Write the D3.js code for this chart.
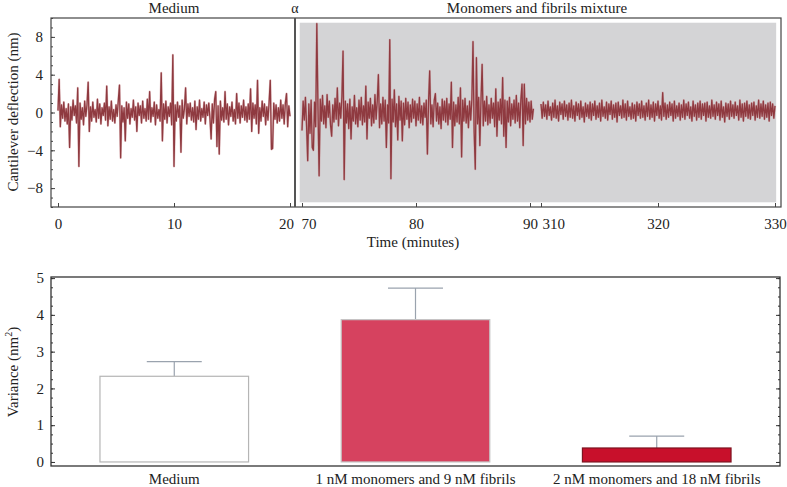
<!DOCTYPE html>
<html>
<head>
<meta charset="utf-8">
<script src="https://cdn.jsdelivr.net/npm/d3@7"></script>
<style>
  body { margin: 0; background: #fff; }
  text { font-family: "Liberation Serif", "Times New Roman", serif; fill: #222; }
</style>
</head>
<body>
<div class="canva"></div>
<script>
// ---- data: cantilever deflection trace (nm), sampled every 0.1 min ----
const sampleStep = 0.1;

const medStart = 0;
const medTrace = [
  0.2, 3.5, -1.5, 0.8, -0.6, 1.1, -0.9, 0.4, -1.2, 0.9,
  -3.7, 0.6, -0.8, 1.3, -0.3, 0.7, -1.1, 2.6, -5.7, 1.0,
  -0.7, 0.5, -1.3, 1.2, -0.4, 0.8, 3.2, -2.0, 0.6, -0.9,
  1.1, -0.5, 0.3, -1.0, 1.4, -0.6, 0.9, -1.2, 0.5, -0.3,
  1.0, -0.8, 2.8, -1.4, 0.6, -0.7, 1.2, -0.9, 0.3, -1.1,
  0.8, -0.4, 1.3, 2.9, -4.8, 0.7, -1.0, 0.5, -3.0, 1.1,
  -0.6, 0.9, -1.2, 0.4, -0.5, 1.3, -0.8, 0.6, -2.0, 1.0,
  -0.3, 0.7, -1.1, 1.2, -0.6, 0.4, -0.9, 1.4, -0.7, 2.2,
  -1.0, 0.5, -0.4, 1.1, -1.3, 0.8, -0.6, 0.3, -0.9, 4.2,
  -3.0, 0.9, -0.7, 1.2, -1.1, 0.6, -0.4, 1.0, -1.3, 6.1,
  -5.7, 0.8, -0.9, 1.1, -0.5, 0.7, -4.2, 1.3, -0.6, 0.4,
  2.6, -1.2, 0.9, -0.4, 1.0, -0.8, 0.5, -1.0, 1.2, -1.8,
  0.6, -0.7, 1.3, -0.9, 0.4, -0.5, 1.1, -1.2, 0.8, -0.3,
  1.0, -0.6, -2.8, 0.9, -1.1, 1.4, 2.2, -3.6, 0.7, -4.4,
  1.2, -0.8, 0.5, -1.0, 2.2, -0.7, 0.9, -1.3, 0.6, -0.4,
  1.1, -0.9, 0.3, -1.2, 2.0, -0.6, 1.0, -1.1, 0.7, -0.5,
  1.3, -0.8, 0.6, -1.0, 0.9, -0.7, 2.5, -2.0, 1.0, -0.6,
  0.8, -1.2, 3.4, -2.2, 0.5, -0.9, 1.2, -0.4, 0.9, -1.3,
  0.6, -0.8, 1.1, 3.4, -3.9, -3.8, 1.0, -0.7, 0.8, -1.1,
  0.5, -0.9, 1.3, -0.6, 0.8, -1.2, 1.0, 2.0, -1.5, 0.7,
  -0.4
];

const mixStart = 70;
const mixTrace = [
  -1.9, 1.2, -0.8, 1.6, -1.4, -5.1, 0.9, -2.2, 1.3, -3.7,
  -4.0, 1.1, -1.5, 9.4, 0.6, -6.7, 1.4, -0.9, 1.8, -1.2,
  0.7, -1.6, 1.9, -0.5, 1.2, -1.3, -2.5, 0.8, -1.0, 1.5,
  -0.7, 2.6, -1.4, 1.0, -0.6, 1.7, 6.5, -7.1, 1.2, -1.1,
  0.9, -1.7, 1.4, -2.8, 0.6, -0.9, 1.8, -1.2, 0.5, -1.5,
  1.3, -0.8, 1.6, -1.3, 0.7, -1.0, 2.8, -2.8, 1.1, -0.6,
  1.5, -1.4, 0.8, -1.1, 1.9, -0.7, 1.2, 4.0, -1.6, 0.9,
  -1.2, 1.6, -0.9, 1.3, -3.7, 0.8, -1.1, 7.7, -7.0, 1.4,
  -1.0, 2.4, -1.5, 0.9, -2.9, 1.7, -0.8, 1.2, -3.0, 1.0,
  -1.3, 1.5, -0.7, 1.1, -1.6, 0.8, -1.0, 1.4, -0.6, 1.2,
  -1.4, 0.9, -0.8, 1.6, -1.1, 0.7, -1.3, 1.0, -0.5, 1.3,
  -4.4, 1.1, 4.4, -1.2, 0.8, -1.5, 1.3, 2.0, -0.9, 1.0,
  -1.2, 0.6, -1.7, 1.4, -0.8, 1.2, -1.0, 1.5, -1.3, 0.9,
  -0.7, 3.2, -3.7, 1.1, -1.4, 0.8, -1.0, 1.6, -1.2, 2.6,
  -4.7, 1.3, -0.9, 1.5, -1.1, 0.7, -1.6, 1.2, -0.8, 1.4,
  7.5, -2.0, -6.0, 5.8, -1.2, 1.6, -3.5, 1.3, 5.1, -1.4,
  1.2, -0.9, 1.7, -1.3, 0.8, -1.1, 1.5, -0.6, 1.0, -1.5,
  2.5, -2.5, 1.1, -0.8, 1.4, -1.2, 3.7, -2.5, 1.3, -3.7,
  1.2, -1.0, 1.6, -1.4, 0.9, -0.7, 1.3, -1.1, 1.8, -0.9,
  1.0, -1.6, 1.4, 3.0, -3.5, 3.0, -1.2, 1.5, -0.8, 1.1,
  -1.0, 1.2, -0.7, 0.4
];

const lateStart = 310;
const lateTrace = [
  0.9, -0.6, 1.1, -0.4, 0.8, -0.7, 1.2, -0.3, 0.6, -0.8,
  1.0, -0.5, 1.3, -0.6, 0.7, -0.9, 1.1, -0.2, 0.9, -0.7,
  1.2, -0.4, 0.8, -0.8, 1.0, -0.5, 1.3, -0.6, 0.7, -0.9,
  1.1, -0.3, 0.9, -0.7, 1.2, -0.5, 0.6, -1.0, 1.0, -0.4,
  0.8, -0.6, 1.1, -0.8, 0.9, -0.3, 1.2, -0.7, 0.7, -0.5,
  1.0, -0.9, 1.3, -0.4, 0.6, -0.6, 1.1, -0.8, 0.9, -0.2,
  1.2, -0.7, 0.8, -0.5, 1.0, -1.0, 1.1, -0.3, 0.7, -0.6,
  1.3, -0.5, 0.9, -0.8, 1.2, -0.4, 0.6, -0.7, 1.0, -0.6,
  0.8, -0.9, 1.1, -0.3, 0.9, -0.6, 1.2, -0.5, 0.7, -0.8,
  1.0, -0.4, 1.3, -0.7, 0.8, -0.5, 1.1, -0.9, 0.9, -0.3,
  1.2, -0.6, 0.7, -0.8, 2.1, -0.4, 1.0, -0.7, 0.8, -0.5,
  1.1, -0.3, 0.9, -0.9, 1.2, -0.6, 0.7, -0.4, 1.0, -0.8,
  0.8, -0.5, 1.3, -0.7, 0.9, -0.3, 1.1, -0.6, 0.6, -0.9,
  1.2, -0.4, 0.8, -0.8, 1.0, -0.5, 1.2, -0.7, 0.9, -0.3,
  1.0, -0.9, 1.1, -0.5, 0.7, -0.6, 1.3, -0.4, 0.8, -0.7,
  1.1, -0.3, 0.9, -0.8, 1.2, -0.5, 0.6, -1.0, 1.0, -0.4,
  0.9, -0.7, 1.2, -0.4, 0.8, -0.6, 1.1, -0.3, 0.7, -0.8,
  1.3, -0.5, 0.9, -0.9, 1.0, -0.4, 1.2, -0.6, 0.8, -0.7,
  1.0, -0.3, 1.1, -0.8, 0.7, -0.5, 1.3, -0.6, 0.9, -0.4,
  1.2, -0.7, 0.8, -0.5, 1.0, -0.9, 1.1, -0.3, 0.9, -0.6,
  0.7
];

const medTicks = [0, 10, 20];
const mixTicks = [70, 80, 90];
const lateTicks = [310, 320, 330];
const deflTicks = [-8, -4, 0, 4, 8];

// ---- data: variance bar chart ----
const categories = ['Medium', '1 nM monomers and 9 nM fibrils', '2 nM monomers and 18 nM fibrils'];
const variance = [2.33, 3.87, 0.38];
const varianceErr = [0.40, 0.86, 0.32];
const varTicks = [0, 1, 2, 3, 4, 5];

const barFill = ['#ffffff', '#d6425f', '#c8102b'];
const barStroke = ['#b5b5b5', '#c4c4c4', '#7d1420'];

const svg = d3.select('.canva').append('svg')
    .attr('width', 787)
    .attr('height', 487);

// ================= top panel =================
const yTop = d3.scaleLinear().domain([-10, 10]).range([207, 18]);
const x1 = d3.scaleLinear().domain([0, 20]).range([58, 290]);
const x2 = d3.scaleLinear().domain([70, 90]).range([302, 530]);
const x3 = d3.scaleLinear().domain([310, 330]).range([541, 775]);

// grey background of the mixture part
svg.append('rect')
    .attr('x', x2(69.8))
    .attr('y', yTop(9.5))
    .attr('width', x3(330.1) - x2(69.8))
    .attr('height', yTop(-9.5) - yTop(9.5))
    .attr('fill', '#d4d4d6');

const segments = [
  {x: x1, start: medStart, values: medTrace},
  {x: x2, start: mixStart, values: mixTrace},
  {x: x3, start: lateStart, values: lateTrace}
];

segments.forEach(s => {
  const line = d3.line()
      .x((d, i) => s.x(s.start + i * sampleStep))
      .y(d => yTop(d));
  // soft halo, then the trace itself
  svg.append('path')
      .datum(s.values)
      .attr('d', line)
      .attr('fill', 'none')
      .attr('stroke', '#c9868a')
      .attr('stroke-width', 2.2)
      .attr('stroke-opacity', 0.5)
      .attr('stroke-linejoin', 'round');
  svg.append('path')
      .datum(s.values)
      .attr('d', line)
      .attr('fill', 'none')
      .attr('stroke', '#8f3a40')
      .attr('stroke-width', 1.3)
      .attr('stroke-linejoin', 'round');
});

// frame
svg.append('rect')
    .attr('x', 51).attr('y', 18)
    .attr('width', 730).attr('height', 189)
    .attr('fill', 'none')
    .attr('stroke', '#444')
    .attr('stroke-width', 1.2);

// separator at the alpha mark
svg.append('line')
    .attr('x1', 295).attr('x2', 295)
    .attr('y1', 18).attr('y2', 207)
    .attr('stroke', '#555')
    .attr('stroke-width', 2);

// y axis (major + minor ticks, inward)
svg.append('g')
    .attr('transform', 'translate(51,0)')
    .call(d3.axisLeft(yTop).ticks(20).tickSize(-2).tickFormat(''))
    .call(g => g.select('.domain').remove())
    .call(g => g.selectAll('line').attr('stroke', '#444'));

svg.append('g')
    .attr('transform', 'translate(51,0)')
    .call(d3.axisLeft(yTop).tickValues(deflTicks).tickSize(-4).tickPadding(8).tickFormat(d3.format('d')))
    .call(g => g.select('.domain').remove())
    .call(g => g.selectAll('line').attr('stroke', '#444'))
    .call(g => g.selectAll('text').attr('font-size', 15)
        .style('font-family', '"Liberation Serif", serif'));

// broken x axis
[[x1, medTicks], [x2, mixTicks], [x3, lateTicks]].forEach(([sc, tv]) => {
  svg.append('g')
      .attr('transform', 'translate(0,207)')
      .call(d3.axisBottom(sc).tickValues(tv).tickSize(-4).tickPadding(11).tickFormat(d3.format('d')))
      .call(g => g.select('.domain').remove())
      .call(g => g.selectAll('line').attr('stroke', '#444'))
      .call(g => g.selectAll('text').attr('font-size', 15)
          .style('font-family', '"Liberation Serif", serif'))
      .call(g => g.selectAll('.tick text')
          .filter(d => d === 70 || d === 310)
          .attr('text-anchor', 'start')
          .attr('dx', d => d === 310 ? 1 : -1))
      .call(g => g.selectAll('.tick text')
          .filter(d => d === 20)
          .attr('dx', -4));
});

// titles top panel
svg.append('text')
    .text('Medium')
    .attr('x', x1(10)).attr('y', 13)
    .attr('text-anchor', 'middle')
    .attr('font-size', 15);

svg.append('text')
    .text('α')
    .attr('x', 295).attr('y', 13)
    .attr('text-anchor', 'middle')
    .attr('font-size', 14);

svg.append('text')
    .text('Monomers and fibrils mixture')
    .attr('x', 537).attr('y', 13)
    .attr('text-anchor', 'middle')
    .attr('font-size', 15);

svg.append('text')
    .text('Time (minutes)')
    .attr('x', 413).attr('y', 247)
    .attr('text-anchor', 'middle')
    .attr('font-size', 15);

svg.append('text')
    .text('Cantilever deflection (nm)')
    .attr('transform', 'translate(18,112) rotate(-90)')
    .attr('text-anchor', 'middle')
    .attr('font-size', 15);

// ================= bottom panel =================
const xBar = d3.scaleBand()
    .domain(categories)
    .range([51, 780])
    .paddingInner(0.384)
    .paddingOuter(0.203);
const yBar = d3.scaleLinear().domain([-0.11, 5.03]).range([466, 277]);

const bars = categories.map((c, i) => ({c, v: variance[i], e: varianceErr[i], i}));

// error bars
const capW = xBar.bandwidth() * 0.37;
svg.selectAll('.err')
    .data(bars)
    .enter().append('path')
    .attr('class', 'err')
    .attr('d', d => {
      const cx = xBar(d.c) + xBar.bandwidth() / 2;
      return `M${cx},${yBar(d.v)}V${yBar(d.v + d.e)}M${cx - capW / 2},${yBar(d.v + d.e)}H${cx + capW / 2}`;
    })
    .attr('fill', 'none')
    .attr('stroke', '#9aa3ae')
    .attr('stroke-width', 1.2);

svg.selectAll('.bar')
    .data(bars)
    .enter().append('rect')
    .attr('class', 'bar')
    .attr('x', d => xBar(d.c))
    .attr('y', d => yBar(d.v))
    .attr('width', xBar.bandwidth())
    .attr('height', d => yBar(0) - yBar(d.v))
    .attr('fill', d => barFill[d.i])
    .attr('stroke', d => barStroke[d.i])
    .attr('stroke-width', 1.2);

// frame
svg.append('rect')
    .attr('x', 51).attr('y', 277)
    .attr('width', 729).attr('height', 189)
    .attr('fill', 'none')
    .attr('stroke', '#333')
    .attr('stroke-width', 1.3);

// left and right axes with inward ticks
const minorVar = d3.range(0, 5.01, 0.25);
svg.append('g')
    .attr('transform', 'translate(51,0)')
    .call(d3.axisLeft(yBar).tickValues(minorVar).tickSize(-2).tickFormat(''))
    .call(g => g.select('.domain').remove())
    .call(g => g.selectAll('line').attr('stroke', '#333'));

svg.append('g')
    .attr('transform', 'translate(51,0)')
    .call(d3.axisLeft(yBar).tickValues(varTicks).tickSize(-4).tickPadding(7).tickFormat(d3.format('d')))
    .call(g => g.select('.domain').remove())
    .call(g => g.selectAll('line').attr('stroke', '#333'))
    .call(g => g.selectAll('text').attr('font-size', 15)
        .style('font-family', '"Liberation Serif", serif'));

svg.append('g')
    .attr('transform', 'translate(780,0)')
    .call(d3.axisRight(yBar).tickValues(minorVar).tickSize(-2).tickFormat(''))
    .call(g => g.select('.domain').remove())
    .call(g => g.selectAll('line').attr('stroke', '#333'));

svg.append('g')
    .attr('transform', 'translate(780,0)')
    .call(d3.axisRight(yBar).tickValues(varTicks).tickSize(-4).tickFormat(''))
    .call(g => g.select('.domain').remove())
    .call(g => g.selectAll('line').attr('stroke', '#333'));

// category labels
svg.append('g')
    .attr('transform', 'translate(0,466)')
    .call(d3.axisBottom(xBar).tickSize(0).tickPadding(7))
    .call(g => g.select('.domain').remove())
    .call(g => g.selectAll('text').attr('font-size', 15)
        .style('font-family', '"Liberation Serif", serif'));

// y label with superscript
const vLabel = svg.append('text')
    .attr('transform', 'translate(18,372) rotate(-90)')
    .attr('text-anchor', 'middle')
    .attr('font-size', 15);
vLabel.append('tspan').text('Variance (nm');
vLabel.append('tspan').text('2').attr('font-size', 10).attr('dy', -6);
vLabel.append('tspan').text(')').attr('dy', 6);
</script>
</body>
</html>
